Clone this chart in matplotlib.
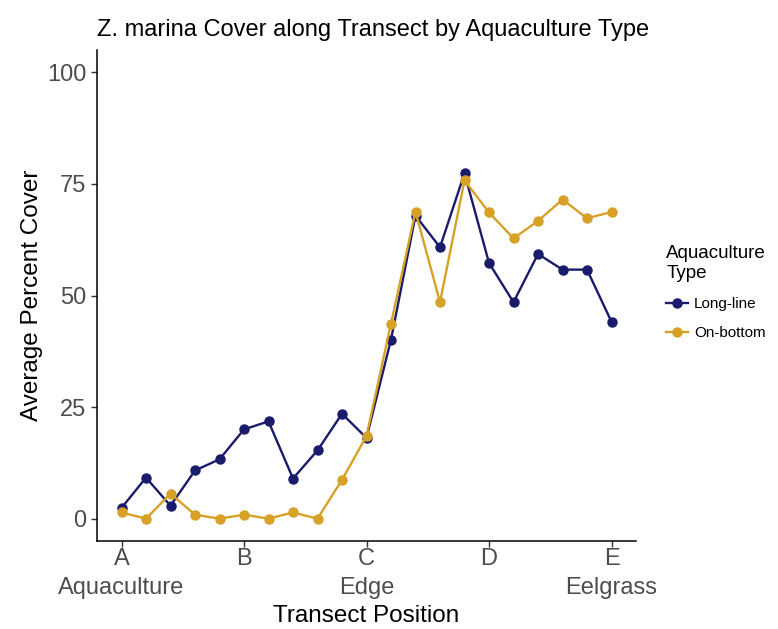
import matplotlib.pyplot as plt

plt.rcParams['font.family'] = ['Liberation Sans', 'DejaVu Sans']

# transect positions, 0..20 (A..E every 5 steps)
positions = list(range(21))
tick_positions = [0, 5, 10, 15, 20]
tick_labels = ["A\nAquaculture", "B", "C\nEdge", "D", "E\nEelgrass"]

long_line = [2.4, 9.2, 2.9, 10.8, 13.3, 20.0, 21.8, 9.0, 15.3, 23.5, 18.1,
             40.1, 67.9, 60.8, 77.4, 57.3, 48.5, 59.3, 55.8, 55.8, 44.1]
on_bottom = [1.4, 0.0, 5.6, 0.9, 0.0, 0.9, 0.0, 1.4, 0.0, 8.7, 18.5,
             43.7, 68.8, 48.5, 75.8, 68.6, 62.8, 66.7, 71.5, 67.3, 68.7]

series = [("Long-line", long_line, "#1b1b6b"),
          ("On-bottom", on_bottom, "#d6a126")]

fig = plt.figure(figsize=(7.78, 6.29), dpi=100)
ax = fig.add_axes([97 / 778, 1 - 541 / 629, (636 - 97) / 778, (541 - 50) / 629])

for name, values, color in series:
    ax.plot(positions, values, color=color, linewidth=1.7, marker="o",
            markersize=6.5, label=name)

ax.set_xlim(-1, 21)
ax.set_ylim(-5, 105)
ax.set_xticks(tick_positions)
ax.set_xticklabels(tick_labels)
ax.set_yticks([0, 25, 50, 75, 100])

for side in ["top", "right"]:
    ax.spines[side].set_visible(False)
for side in ["left", "bottom"]:
    ax.spines[side].set_linewidth(1.1)
ax.tick_params(axis="both", colors="#333333", labelcolor="#4d4d4d",
               labelsize=17, length=4, width=1.0)
ax.tick_params(axis="x", pad=1)
for lbl in ax.get_xticklabels():
    lbl.set_linespacing(1.42)

ax.set_xlabel("Transect Position", fontsize=17.5, labelpad=4)
ax.set_ylabel("Average Percent Cover", fontsize=17.5, labelpad=3)
ax.set_title("Z. marina Cover along Transect by Aquaculture Type",
             fontsize=17, loc="left", pad=10)

leg = ax.legend(title="Aquaculture\nType", loc="upper left",
                bbox_to_anchor=(1.045, 0.615), frameon=False, fontsize=11,
                title_fontsize=13.5, handlelength=1.4, handletextpad=0.4,
                labelspacing=1.0, alignment="left", borderaxespad=0)

fig.savefig("out.png", dpi=100)
